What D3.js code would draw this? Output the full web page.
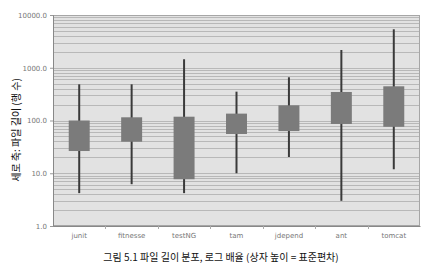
<!DOCTYPE html>
<html>
<head>
<meta charset="utf-8">
<script src="https://cdn.jsdelivr.net/npm/d3@7"></script>
<style>
  body { margin: 0; background: #fff; }
  .tick text { font: 7px "DejaVu Sans", sans-serif; fill: #777; }
  .cap { font: 10px "Noto Sans CJK KR", sans-serif; fill: #111; }
</style>
</head>
<body>
<svg id="chart" width="442" height="271"></svg>
<script>
const categories = ["junit", "fitnesse", "testNG", "tam", "jdepend", "ant", "tomcat"]
const whiskerHigh = [485, 485, 1450, 352, 660, 2170, 5360]
const boxHigh = [100, 115, 118, 135, 194, 347, 445]
const boxLow = [26.4, 39.6, 7.7, 55.5, 63, 86, 76]
const whiskerLow = [4.2, 6.2, 4.2, 10, 20.3, 3.0, 11.9]
const yTicks = [1, 10, 100, 1000, 10000]

const rows = categories.map((c, i) => ({
  name: c, wHi: whiskerHigh[i], bHi: boxHigh[i], bLo: boxLow[i], wLo: whiskerLow[i]
}))

const svg = d3.select("#chart")
const plotL = 53, plotR = 420, plotT = 15, plotB = 226

const x = d3.scaleBand().domain(categories).range([plotL, plotR])
const y = d3.scaleLog().domain([1, 10000]).range([plotB, plotT])

// plot background
svg.append("rect")
  .attr("x", plotL).attr("y", plotT)
  .attr("width", plotR - plotL).attr("height", plotB - plotT)
  .attr("fill", "#e2e2e2")

// log grid lines, including the minor ones
const gridVals = []
for (let d = 1; d < 10000; d *= 10) {
  for (let k = 1; k <= 9; k++) gridVals.push(d * k)
}
gridVals.push(10000)

svg.append("g")
  .selectAll("line")
  .data(gridVals).enter()
    .append("line")
      .attr("x1", plotL).attr("x2", plotR)
      .attr("y1", d => Math.round(y(d)) + 0.5)
      .attr("y2", d => Math.round(y(d)) + 0.5)
      .attr("stroke", "#b8b8b8")
      .attr("stroke-width", 1)

// border
svg.append("rect")
  .attr("x", plotL + 0.5).attr("y", plotT + 0.5)
  .attr("width", plotR - plotL - 1).attr("height", plotB - plotT - 1)
  .attr("fill", "none")
  .attr("stroke", "#a6a6a6")

// y axis
svg.append("g")
  .attr("transform", `translate(${plotL},0)`)
  .call(d3.axisLeft(y).tickValues(yTicks).tickFormat(d3.format(".1f")).tickSize(3))
  .call(g => g.select(".domain").attr("stroke", "#888"))
  .call(g => g.selectAll(".tick line").attr("stroke", "#999"))

// x axis
const xAxisG = svg.append("g")
  .attr("transform", `translate(0,${plotB})`)
  .call(d3.axisBottom(x).tickSize(0).tickPadding(7))
xAxisG.select(".domain").attr("stroke", "#888")

// small ticks between categories
svg.append("g")
  .selectAll("line")
  .data(categories.slice(1)).enter()
    .append("line")
      .attr("x1", d => Math.round(x(d)) + 0.5)
      .attr("x2", d => Math.round(x(d)) + 0.5)
      .attr("y1", plotB).attr("y2", plotB + 3)
      .attr("stroke", "#aaa")

const boxW = x.bandwidth() * 0.4

// whiskers
svg.append("g")
  .selectAll("line")
  .data(rows).enter()
    .append("line")
      .attr("x1", d => x(d.name) + x.bandwidth() / 2)
      .attr("x2", d => x(d.name) + x.bandwidth() / 2)
      .attr("y1", d => y(d.wHi))
      .attr("y2", d => y(d.wLo))
      .attr("stroke", "#3a3a3a")
      .attr("stroke-width", 2)

// boxes
svg.append("g")
  .selectAll("rect")
  .data(rows).enter()
    .append("rect")
      .attr("x", d => x(d.name) + (x.bandwidth() - boxW) / 2)
      .attr("y", d => y(d.bHi))
      .attr("width", boxW)
      .attr("height", d => y(d.bLo) - y(d.bHi))
      .attr("fill", "#7b7b7b")

// y label
svg.append("text")
  .attr("class", "cap")
  .attr("transform", `translate(20,130)rotate(-90)`)
  .attr("text-anchor", "middle")
  .text("세로 축: 파일 길이 (행 수)")

// caption
svg.append("text")
  .attr("class", "cap")
  .attr("x", 221).attr("y", 261)
  .attr("text-anchor", "middle")
  .text("그림 5.1 파일 길이 분포, 로그 배율 (상자 높이 = 표준편차)")
</script>
</body>
</html>
